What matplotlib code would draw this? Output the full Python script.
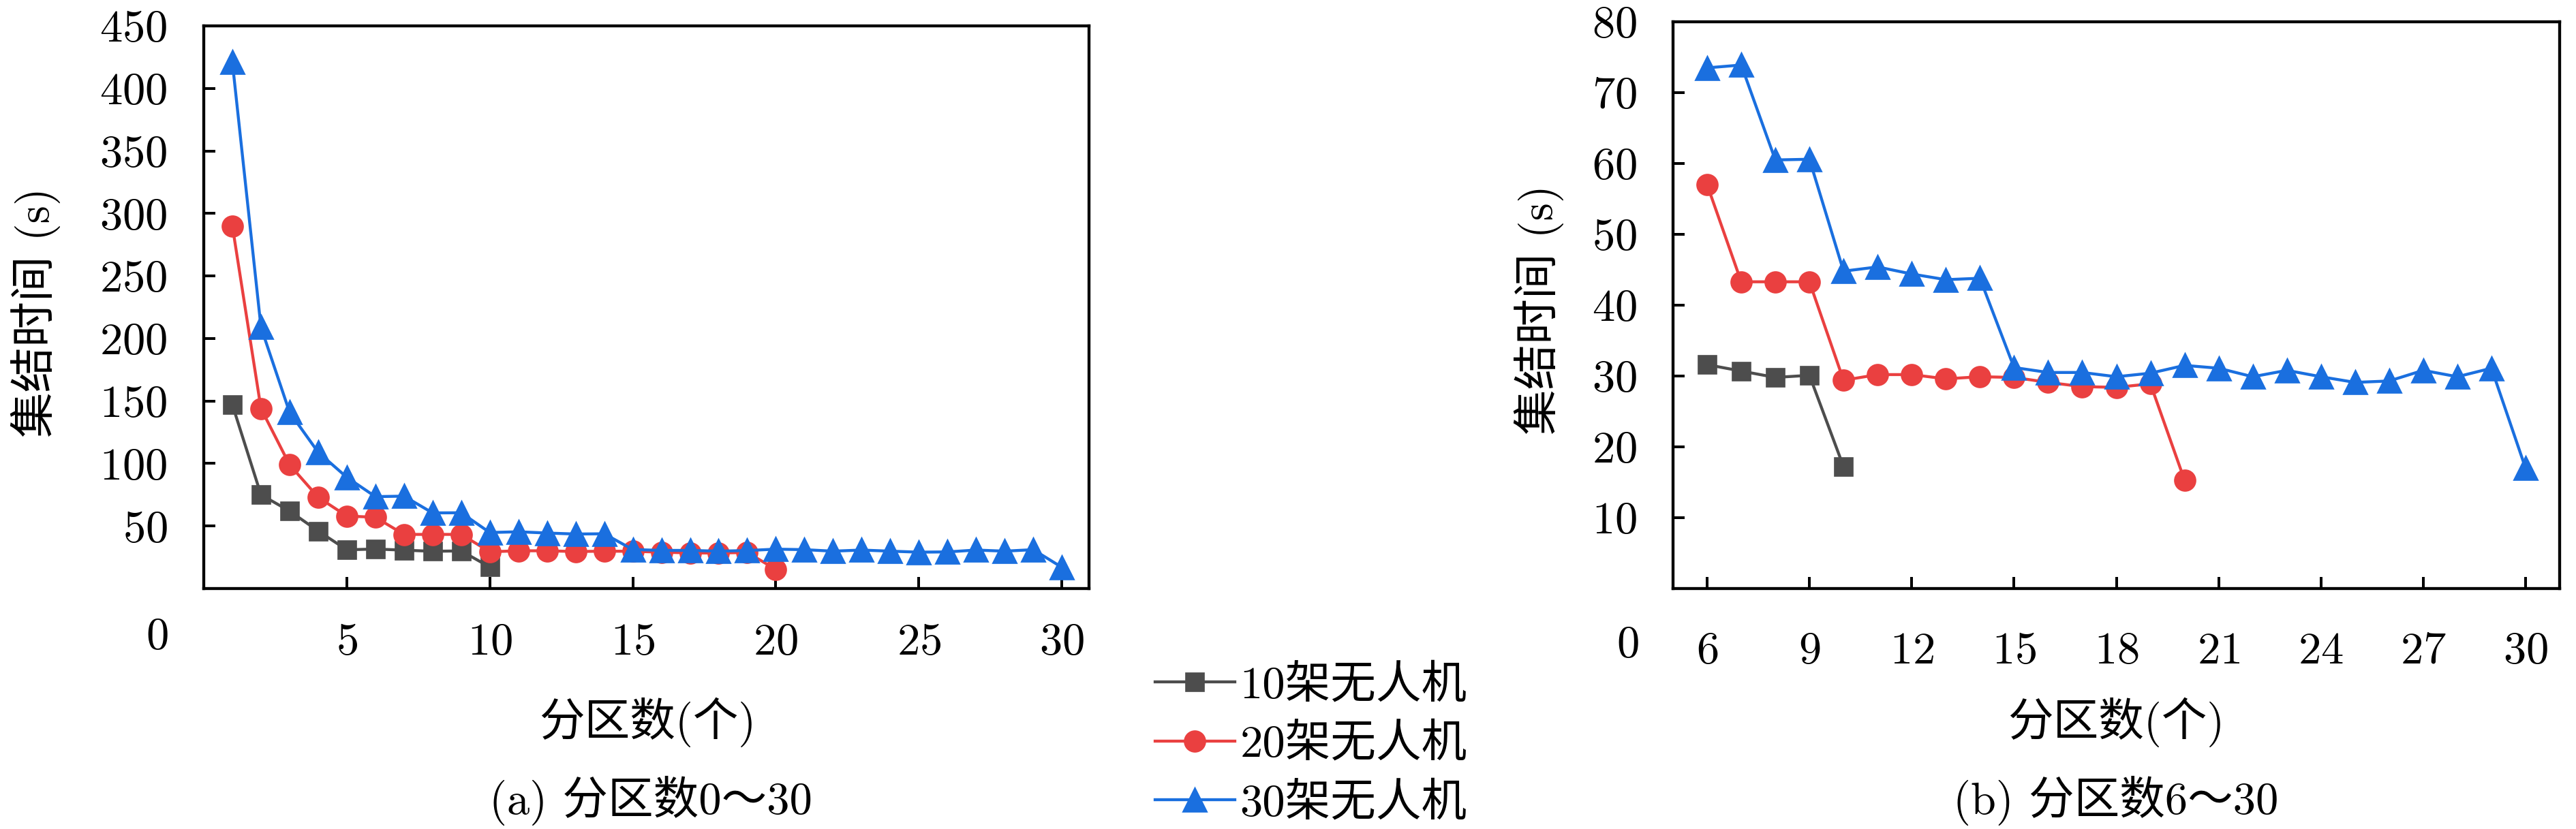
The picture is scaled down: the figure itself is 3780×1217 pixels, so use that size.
import matplotlib
matplotlib.use('Agg')
import matplotlib.pyplot as plt

# 数据
x10 = list(range(1, 11))
y10 = [147, 75, 62, 46, 31, 31.6, 30.7, 29.8, 30.1, 17.2]

x20 = list(range(1, 21))
y20 = [290, 144, 99, 73, 58, 57, 43.3, 43.3, 43.3, 29.4,
       30.2, 30.2, 29.6, 29.9, 29.8, 29.1, 28.5, 28.4, 28.9, 15.3]

x30 = list(range(1, 31))
y30 = [421, 209, 141, 109, 89, 73.5, 73.9, 60.5, 60.6, 44.8,
       45.4, 44.4, 43.6, 43.8, 31.2, 30.5, 30.5, 29.9, 30.4, 31.5,
       31.1, 29.9, 30.8, 29.9, 29.1, 29.3, 30.8, 29.9, 31.1, 17]

labels = ['10架无人机', '20架无人机', '30架无人机']
colors = ['#4d4d4d', '#ea4040', '#1a6fdf']
markers = ['s', 'o', '^']
msizes = [8, 9, 10]

xticks_a = [5, 10, 15, 20, 25, 30]
yticks_a = [50, 100, 150, 200, 250, 300, 350, 400, 450]
xticks_b = [6, 9, 12, 15, 18, 21, 24, 27, 30]
yticks_b = [10, 20, 30, 40, 50, 60, 70, 80]

plt.rcParams['font.family'] = ['cmr10', 'Noto Sans CJK SC']
plt.rcParams['axes.formatter.use_mathtext'] = True
plt.rcParams['axes.unicode_minus'] = False
FS = 20

W, H = 3780, 1217
fig = plt.figure(figsize=(W / 240, H / 240), dpi=240)

ax1 = fig.add_axes([299 / W, 1 - 864 / H, (1598 - 299) / W, (864 - 38) / H])
ax2 = fig.add_axes([2455 / W, 1 - 864 / H, (3756 - 2455) / W, (864 - 32) / H])

series = [(x10, y10), (x20, y20), (x30, y30)]


def draw(ax, xmin):
    hs = []
    for (xs, ys), lab, c, m, ms in zip(series, labels, colors, markers, msizes):
        xx = [a for a in xs if a >= xmin]
        yy = [b for a, b in zip(xs, ys) if a >= xmin]
        h, = ax.plot(xx, yy, color=c, marker=m, markersize=ms, lw=1.3,
                     markeredgewidth=0.8, markeredgecolor=c, label=lab)
        hs.append(h)
    for s in ax.spines.values():
        s.set_linewidth(1.3)
    return hs


hs = draw(ax1, 1)
ax1.set_xlim(0, 30.95)
ax1.set_ylim(0, 450)
ax1.set_xticks(xticks_a)
ax1.set_yticks(yticks_a)
ax1.tick_params(direction='in', length=5, width=1.2, labelsize=FS)
ax1.tick_params(axis='y', pad=16)
ax1.tick_params(axis='x', pad=15)

draw(ax2, 6)
ax2.set_xlim(5, 31)
ax2.set_ylim(0, 80)
ax2.set_xticks(xticks_b)
ax2.set_yticks(yticks_b)
ax2.tick_params(direction='in', length=5, width=1.2, labelsize=FS)
ax2.tick_params(axis='y', pad=16)
ax2.tick_params(axis='x', pad=19)

# 原点处的 0
ax1.annotate('0', xy=(0, 0), xycoords='axes fraction', xytext=(-20.4, -21.6),
             textcoords='offset points', ha='center', va='center', fontsize=FS)
ax2.annotate('0', xy=(0, 0), xycoords='axes fraction', xytext=(-19.8, -25.2),
             textcoords='offset points', ha='center', va='center', fontsize=FS)

# 坐标轴标题和子图标题
fig.text(52 / W, 1 - 459 / H, '集结时间 (s)', rotation=90, ha='center', va='center', fontsize=FS)
fig.text(2258 / W, 1 - 455 / H, '集结时间 (s)', rotation=90, ha='center', va='center', fontsize=FS)
fig.text(950 / W, 1 - 1060 / H, '分区数(个)', ha='center', va='center', fontsize=FS)
fig.text(3105 / W, 1 - 1060 / H, '分区数(个)', ha='center', va='center', fontsize=FS)
fig.text(955 / W, 1 - 1175 / H, '(a) 分区数0～30', ha='center', va='center', fontsize=FS)
fig.text(3105 / W, 1 - 1175 / H, '(b) 分区数6～30', ha='center', va='center', fontsize=FS)

fig.legend(handles=hs, labels=labels, loc='center left', bbox_to_anchor=(1695 / W, 1 - 1093 / H),
           frameon=False, fontsize=FS, handlelength=1.75, handletextpad=0.12,
           labelspacing=0.37, borderpad=0, borderaxespad=0)

fig.savefig('out.png', dpi=240)
